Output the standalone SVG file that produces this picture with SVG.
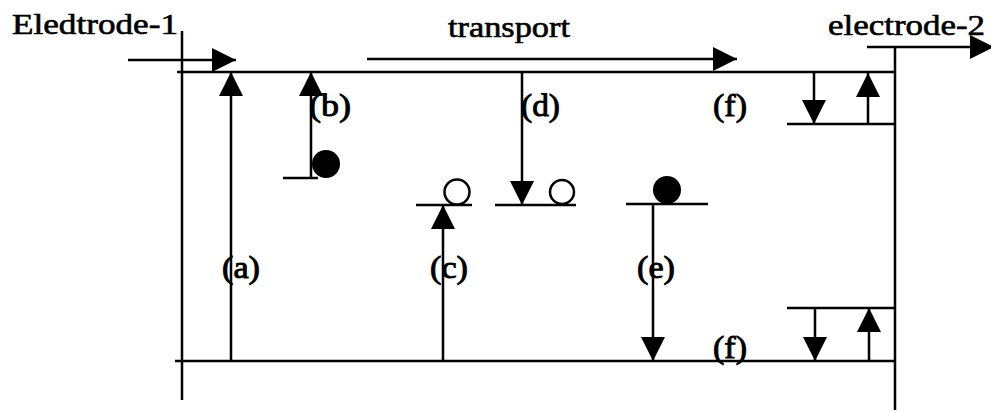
<svg xmlns="http://www.w3.org/2000/svg" width="991" height="411" viewBox="0 0 991 411">
<style>
.ln{stroke:#000;stroke-width:2.5;fill:none}
.ar{stroke:#000;stroke-width:2.5;fill:none;marker-end:url(#ah)}
.t{font-family:"Liberation Serif","Times New Roman",serif;fill:#000;stroke:#000;stroke-width:0.6}
.big{font-size:29px}
.lbl{font-size:31px;stroke-width:0.9}
.fill{fill:#000}
.open{fill:#fff;stroke:#000;stroke-width:2.5}
</style>
<defs>
<marker id="ah" viewBox="0 0 24 24" refX="24" refY="12" markerWidth="24" markerHeight="24" markerUnits="userSpaceOnUse" orient="auto">
<path d="M0,0 L24,12 L0,24 z" fill="#000"/>
</marker>
</defs>
<rect width="991" height="411" fill="#fff"/>
<g id="frame">
<line class="ln" x1="182" y1="31" x2="182" y2="400"/>
<line class="ln" x1="895" y1="46" x2="895" y2="410"/>
<line class="ln" x1="177" y1="72" x2="895" y2="72"/>
<line class="ln" x1="175" y1="361" x2="895" y2="361"/>
</g>
<g id="titles">
<text class="t big" x="12" y="34" textLength="166" lengthAdjust="spacingAndGlyphs">Eledtrode-1</text>
<text class="t big" x="448" y="37" textLength="122" lengthAdjust="spacingAndGlyphs">transport</text>
<text class="t big" x="828" y="35" textLength="157" lengthAdjust="spacingAndGlyphs">electrode-2</text>
</g>
<g id="level-b">
<line class="ln" x1="283" y1="178" x2="318" y2="178"/>
<circle class="fill" cx="326" cy="164" r="14"/>
</g>
<g id="level-c">
<line class="ln" x1="416" y1="205" x2="472" y2="205"/>
<circle class="open" cx="457" cy="192" r="12.5"/>
</g>
<g id="level-d">
<line class="ln" x1="495" y1="205" x2="576" y2="205"/>
<circle class="open" cx="562" cy="192" r="12"/>
</g>
<g id="level-e">
<line class="ln" x1="626" y1="204" x2="708" y2="204"/>
<circle class="fill" cx="667" cy="190" r="14"/>
</g>
<g id="level-f-top">
<line class="ln" x1="787" y1="124" x2="895" y2="124"/>
</g>
<g id="level-f-bottom">
<line class="ln" x1="787" y1="308" x2="895" y2="308"/>
</g>
<g id="connectors">
<line class="ar" x1="128" y1="60" x2="236" y2="60"/>
<line class="ar" x1="367" y1="59" x2="737" y2="59"/>
<line class="ar" x1="867" y1="47" x2="994" y2="47"/>
<line class="ar" x1="231" y1="361" x2="231" y2="72"/>
<line class="ar" x1="311" y1="178" x2="311" y2="72"/>
<line class="ar" x1="443" y1="361" x2="443" y2="205"/>
<line class="ar" x1="522" y1="72" x2="522" y2="205"/>
<line class="ar" x1="653" y1="204" x2="653" y2="361"/>
<line class="ar" x1="814" y1="72" x2="814" y2="124"/>
<line class="ar" x1="868" y1="124" x2="868" y2="73"/>
<line class="ar" x1="815" y1="308" x2="815" y2="361"/>
<line class="ar" x1="869" y1="361" x2="869" y2="308"/>
</g>
<g id="labels">
<text class="t lbl" x="222" y="278" textLength="38" lengthAdjust="spacingAndGlyphs">(a)</text>
<text class="t lbl" x="309" y="116" textLength="42" lengthAdjust="spacingAndGlyphs">(b)</text>
<text class="t lbl" x="430" y="278" textLength="38" lengthAdjust="spacingAndGlyphs">(c)</text>
<text class="t lbl" x="521" y="116" textLength="39" lengthAdjust="spacingAndGlyphs">(d)</text>
<text class="t lbl" x="637" y="278" textLength="38" lengthAdjust="spacingAndGlyphs">(e)</text>
<text class="t lbl" x="713" y="116" textLength="34" lengthAdjust="spacingAndGlyphs">(f)</text>
<text class="t lbl" x="713" y="358" textLength="34" lengthAdjust="spacingAndGlyphs">(f)</text>
</g>
</svg>
